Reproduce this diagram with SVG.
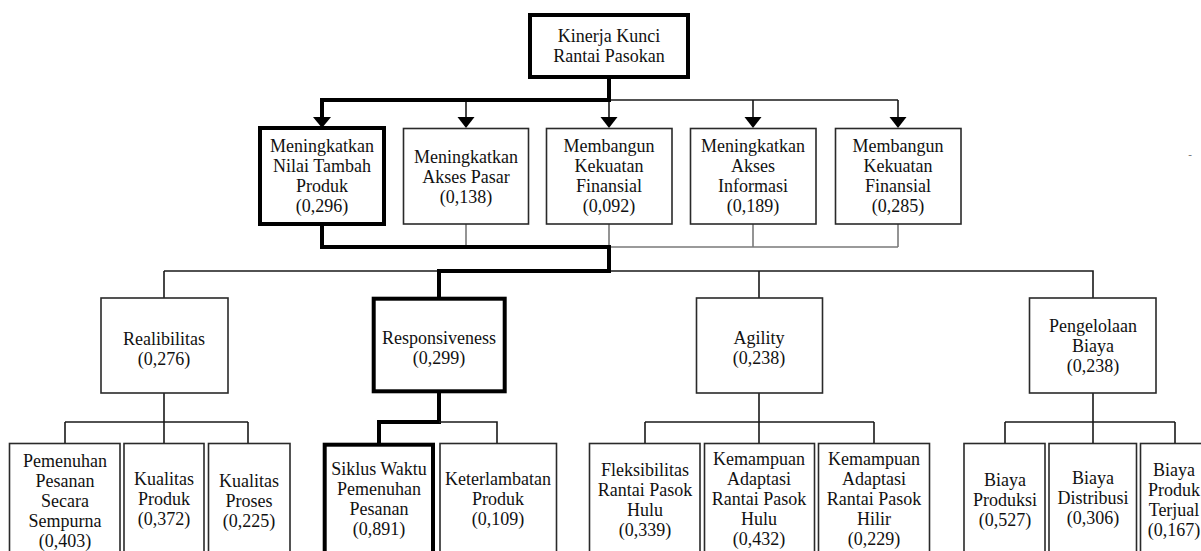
<svg xmlns="http://www.w3.org/2000/svg" width="1201" height="551" viewBox="0 0 1201 551">
<style>
text{font-family:"Liberation Serif","Times New Roman",serif;font-size:18px;fill:#111;text-anchor:middle}
.box{fill:#fff;stroke:#2a2a2a;stroke-width:1.6}
.hl{fill:#fff;stroke:#000;stroke-width:4}
.ln{fill:none;stroke:#1a1a1a;stroke-width:1.6}
.gr{fill:none;stroke:#7a7a7a;stroke-width:1.6}
.tk{fill:none;stroke:#000;stroke-width:4;stroke-linejoin:miter;stroke-linecap:square}
.ah{fill:#000}
.dash{font-size:11px;fill:#666}
</style>
<rect width="1201" height="551" fill="#fff"/>
<g id="connectors">
<path class="ln" d="M609 100H898M466 100V118M609 100V118M753 100V118M898 100V118"/>
<path class="tk" d="M609 79V100H322V117"/>
<polygon class="ah" points="313,117 331,117 322,128"/>
<polygon class="ah" points="457.5,117 474.5,117 466,128"/>
<polygon class="ah" points="600.5,117 617.5,117 609,128"/>
<polygon class="ah" points="744.5,117 761.5,117 753,128"/>
<polygon class="ah" points="889.5,117 906.5,117 898,128"/>
<path class="gr" d="M466 224V247M609 224V247H898M753 224V247M898 224V247"/>
<path class="ln" d="M164 271H439M164 271V298M609 271H1093V298M759 271V298"/>
<path class="tk" d="M322 226V247H609V271H439V296"/>
<path class="ln" d="M164 393V443M65 422H248M65 422V443M248 422V443"/>
<path class="tk" d="M439 393V422H379V443"/>
<path class="ln" d="M439 422H497V443"/>
<path class="ln" d="M759 393V443M645 422H874M645 422V443M874 422V443"/>
<path class="ln" d="M1093 393V443M1005 422H1175M1005 422V443M1175 422V443"/>
</g>
<g id="n-root"><rect class="hl" x="530" y="15" width="158" height="62"/><text x="609" y="42">Kinerja Kunci</text><text x="609" y="62">Rantai Pasokan</text></g>
<g id="n-nilai"><rect class="hl" x="260" y="128" width="124" height="96"/><text x="322" y="152">Meningkatkan</text><text x="322" y="172">Nilai Tambah</text><text x="322" y="192">Produk</text><text x="322" y="212">(0,296)</text></g>
<g id="n-pasar"><rect class="box" x="403.5" y="128.5" width="125" height="95.5"/><text x="466" y="163">Meningkatkan</text><text x="466" y="183">Akses Pasar</text><text x="466" y="203">(0,138)</text></g>
<g id="n-finansial1"><rect class="box" x="546.5" y="128.5" width="125.5" height="95.5"/><text x="609" y="152">Membangun</text><text x="609" y="172">Kekuatan</text><text x="609" y="192">Finansial</text><text x="609" y="212">(0,092)</text></g>
<g id="n-informasi"><rect class="box" x="690.5" y="128.5" width="125.5" height="95.5"/><text x="753" y="152">Meningkatkan</text><text x="753" y="172">Akses</text><text x="753" y="192">Informasi</text><text x="753" y="212">(0,189)</text></g>
<g id="n-finansial2"><rect class="box" x="835.5" y="128.5" width="125.5" height="95.5"/><text x="898" y="152">Membangun</text><text x="898" y="172">Kekuatan</text><text x="898" y="192">Finansial</text><text x="898" y="212">(0,285)</text></g>
<text class="dash" x="1190" y="158">-</text>
<g id="n-realibilitas"><rect class="box" x="101" y="298" width="127" height="95"/><text x="164" y="345">Realibilitas</text><text x="164" y="365">(0,276)</text></g>
<g id="n-responsiveness"><rect class="hl" x="373.7" y="298.7" width="131" height="92.6"/><text x="439" y="344">Responsiveness</text><text x="439" y="364">(0,299)</text></g>
<g id="n-agility"><rect class="box" x="696.5" y="298" width="126" height="95"/><text x="759" y="344">Agility</text><text x="759" y="364">(0,238)</text></g>
<g id="n-biaya"><rect class="box" x="1029.5" y="298" width="126.5" height="95"/><text x="1093" y="332">Pengelolaan</text><text x="1093" y="352">Biaya</text><text x="1093" y="372">(0,238)</text></g>
<g id="n-pemenuhan"><rect class="box" x="9.5" y="443.5" width="110.5" height="140"/><text x="65" y="467">Pemenuhan</text><text x="65" y="487">Pesanan</text><text x="65" y="507">Secara</text><text x="65" y="527">Sempurna</text><text x="65" y="547">(0,403)</text></g>
<g id="n-kprod"><rect class="box" x="124" y="443.5" width="80" height="140"/><text x="164" y="485">Kualitas</text><text x="164" y="505">Produk</text><text x="164" y="525">(0,372)</text></g>
<g id="n-kproses"><rect class="box" x="208.5" y="443.5" width="81.5" height="140"/><text x="249" y="487">Kualitas</text><text x="249" y="507">Proses</text><text x="249" y="527">(0,225)</text></g>
<g id="n-siklus"><rect class="hl" x="324.7" y="444.7" width="108.3" height="140"/><text x="379" y="475">Siklus Waktu</text><text x="379" y="495">Pemenuhan</text><text x="379" y="515">Pesanan</text><text x="379" y="535">(0,891)</text></g>
<g id="n-keterlambatan"><rect class="box" x="440" y="443.5" width="116.5" height="140"/><text x="498" y="485">Keterlambatan</text><text x="498" y="505">Produk</text><text x="498" y="525">(0,109)</text></g>
<g id="n-fleks"><rect class="box" x="589.5" y="443.5" width="110.5" height="140"/><text x="645" y="476">Fleksibilitas</text><text x="645" y="496">Rantai Pasok</text><text x="645" y="516">Hulu</text><text x="645" y="536">(0,339)</text></g>
<g id="n-adhulu"><rect class="box" x="704.5" y="443.5" width="110" height="140"/><text x="759" y="465">Kemampuan</text><text x="759" y="485">Adaptasi</text><text x="759" y="505">Rantai Pasok</text><text x="759" y="525">Hulu</text><text x="759" y="545">(0,432)</text></g>
<g id="n-adhilir"><rect class="box" x="818.5" y="443.5" width="111" height="140"/><text x="874" y="465">Kemampuan</text><text x="874" y="485">Adaptasi</text><text x="874" y="505">Rantai Pasok</text><text x="874" y="525">Hilir</text><text x="874" y="545">(0,229)</text></g>
<g id="n-bprod"><rect class="box" x="964" y="443.5" width="81" height="140"/><text x="1005" y="486">Biaya</text><text x="1005" y="506">Produksi</text><text x="1005" y="526">(0,527)</text></g>
<g id="n-bdist"><rect class="box" x="1049" y="443.5" width="87.5" height="140"/><text x="1093" y="484">Biaya</text><text x="1093" y="504">Distribusi</text><text x="1093" y="524">(0,306)</text></g>
<g id="n-bterjual"><rect class="box" x="1140.5" y="443.5" width="100" height="140"/><text x="1174" y="476">Biaya</text><text x="1174" y="496">Produk</text><text x="1174" y="516">Terjual</text><text x="1174" y="536">(0,167)</text></g>
</svg>
